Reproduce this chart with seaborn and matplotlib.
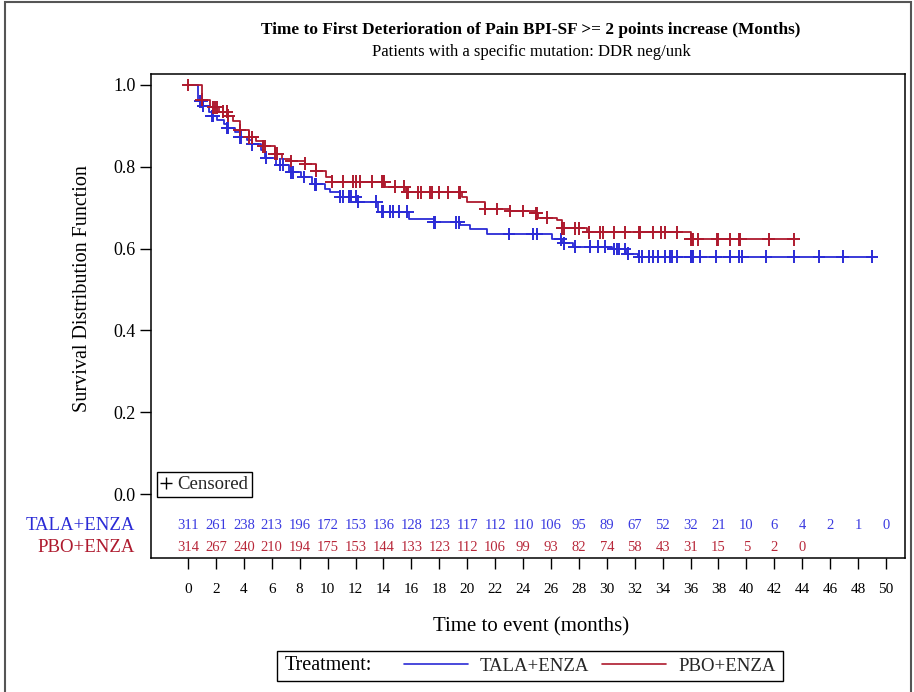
import numpy as np
import pandas as pd
import matplotlib
matplotlib.use("Agg")
import matplotlib.pyplot as plt
from matplotlib.lines import Line2D
from matplotlib.patches import Rectangle
import matplotlib.transforms as mtransforms
import seaborn as sns

# ---- Kaplan-Meier step data (time in months, survival after step) ----
tala_times = [0, 0.7, 1.1, 1.5, 1.7, 2.1, 2.6, 2.8, 3.4, 3.7, 4.2, 4.6, 5.2, 5.5,
              6.3, 7.2, 8.1, 8.9, 9.8, 10.2, 10.9, 12.1, 13.6, 15.8, 17.6, 19.5,
              20.2, 21.4, 26.1, 26.8, 27.6, 30.4, 31.4, 32.2, 49.0]
tala_surv = [1.0, 0.960, 0.949, 0.935, 0.924, 0.915, 0.905, 0.895, 0.885, 0.872,
             0.865, 0.855, 0.840, 0.822, 0.805, 0.787, 0.775, 0.757, 0.745, 0.739,
             0.727, 0.715, 0.690, 0.672, 0.664, 0.658, 0.648, 0.636, 0.623, 0.613,
             0.605, 0.599, 0.588, 0.580, 0.580]

pbo_times = [0, 0.98, 1.6, 2.2, 2.9, 3.2, 3.7, 4.4, 4.9, 5.4, 6.2, 6.7, 7.4, 8.4,
             9.2, 9.9, 10.3, 14.1, 15.6, 19.6, 20.0, 21.3, 23.1, 24.9, 25.1, 26.4,
             26.8, 28.6, 36.0, 43.4]
pbo_surv = [1.0, 0.964, 0.945, 0.935, 0.925, 0.912, 0.890, 0.872, 0.862, 0.850,
            0.832, 0.820, 0.814, 0.808, 0.790, 0.775, 0.764, 0.751, 0.738, 0.726,
            0.715, 0.697, 0.692, 0.686, 0.676, 0.670, 0.650, 0.640, 0.623, 0.623]

# ---- censoring times ----
tala_censor = [0.86, 0.98, 1.1, 1.7, 1.8, 2.8, 2.9, 3.7, 3.8, 4.6, 5.6, 6.6, 6.8,
               7.4, 7.5, 8.3, 9.1, 9.2, 10.9, 11.1, 11.5, 11.7, 12.0, 12.2, 13.5,
               13.9, 13.95, 14.5, 14.7, 15.1, 15.7, 17.6, 17.7, 19.2, 19.4, 23.0,
               24.7, 25.0, 26.7, 26.9, 27.7, 28.8, 29.4, 29.9, 30.5, 30.7, 30.9,
               31.3, 31.5, 32.3, 32.5, 33.0, 33.3, 33.7, 34.2, 34.5, 34.7, 35.0,
               36.0, 36.05, 36.1, 36.15, 36.7, 37.8, 38.8, 39.5, 39.7, 41.4, 43.4,
               45.2, 46.9, 49.0]
pbo_censor = [0.0, 0.98, 1.8, 1.9, 2.1, 2.5, 2.8, 2.9, 3.7, 4.4, 4.6, 5.4, 5.5,
              6.2, 6.4, 7.4, 8.4, 9.2, 10.3, 11.1, 11.8, 12.0, 12.3, 13.2, 13.9,
              14.0, 14.05, 14.8, 15.5, 15.7, 15.75, 16.5, 16.7, 17.3, 17.5, 18.0,
              18.6, 19.4, 19.5, 21.3, 22.1, 23.1, 24.0, 24.9, 25.0, 25.7, 26.8,
              26.9, 27.7, 28.0, 28.7, 29.5, 29.7, 30.5, 31.3, 32.3, 32.35, 33.3,
              33.9, 34.2, 35.0, 36.0, 36.1, 36.15, 36.5, 37.9, 37.95, 38.8, 39.5,
              39.55, 41.6, 43.4]

# ---- numbers at risk ----
risk_times = list(range(0, 52, 2))
tala_risk = [311, 261, 238, 213, 196, 172, 153, 136, 128, 123, 117, 112, 110,
             106, 95, 89, 67, 52, 32, 21, 10, 6, 4, 2, 1, 0]
pbo_risk = [314, 267, 240, 210, 194, 175, 153, 144, 133, 123, 112, 106, 99, 93,
            82, 74, 58, 43, 31, 15, 5, 2, 0]

arms = ["TALA+ENZA", "PBO+ENZA"]
colors = {"TALA+ENZA": "#2B2BD6", "PBO+ENZA": "#AE1A2E"}
risk_colors = {"TALA+ENZA": "#3A3AE0", "PBO+ENZA": "#B8283A"}

sns.set_theme(style="white")
plt.rcParams["font.family"] = ["Liberation Serif", "DejaVu Serif"]

W, H = 914, 692
fig = plt.figure(figsize=(W / 100, H / 100), dpi=100)
ax_l, ax_r, ax_t, ax_b = 151, 905, 73.5, 558
ax = fig.add_axes([ax_l / W, 1 - ax_b / H, (ax_r - ax_l) / W, (ax_b - ax_t) / H])

curves = pd.concat([
    pd.DataFrame({"time": tala_times, "surv": tala_surv, "arm": arms[0]}),
    pd.DataFrame({"time": pbo_times, "surv": pbo_surv, "arm": arms[1]}),
], ignore_index=True)


def step_value(times, surv, t):
    idx = np.searchsorted(np.asarray(times), np.asarray(t), side="right") - 1
    return np.asarray(surv)[idx]


censored = pd.concat([
    pd.DataFrame({"time": tala_censor,
                  "surv": step_value(tala_times, tala_surv, tala_censor),
                  "arm": arms[0]}),
    pd.DataFrame({"time": pbo_censor,
                  "surv": step_value(pbo_times, pbo_surv, pbo_censor),
                  "arm": arms[1]}),
], ignore_index=True)

sns.lineplot(data=curves, x="time", y="surv", hue="arm", palette=colors,
             hue_order=arms, estimator=None, drawstyle="steps-post",
             linewidth=1.3, legend=False, ax=ax)
sns.scatterplot(data=censored, x="time", y="surv", hue="arm", palette=colors,
                hue_order=arms, marker="+", s=85, linewidth=1.4, legend=False,
                ax=ax, zorder=3)

# axis ranges and ticks
ax.set_xlim(-2.65, 51.36)
ax.set_ylim(-0.156, 1.028)
ax.set_xticks(risk_times)
ax.set_yticks([0.0, 0.2, 0.4, 0.6, 0.8, 1.0])
ax.set_yticklabels([f"{v:.1f}" for v in [0.0, 0.2, 0.4, 0.6, 0.8, 1.0]])
ax.tick_params(axis="y", direction="out", length=8, width=1, pad=3,
               labelsize=13, left=True, colors="black")
ax.tick_params(axis="x", direction="out", length=8, width=1, pad=10,
               labelsize=11, bottom=True, colors="black")
for sp in ax.spines.values():
    sp.set_visible(True)
    sp.set_color("black")
    sp.set_linewidth(1.1)
ax.grid(False)

ax.set_ylabel("Survival Distribution Function", fontsize=14.5, color="black")
ax.yaxis.set_label_coords((92 - ax_l) / (ax_r - ax_l), (ax_b - 289) / (ax_b - ax_t))
ax.set_xlabel("Time to event (months)", fontsize=15, color="black")
ax.xaxis.set_label_coords((531 - ax_l) / (ax_r - ax_l), (ax_b - 617) / (ax_b - ax_t))

# numbers at risk table inside the plot area
row_y = {"TALA+ENZA": -0.0758, "PBO+ENZA": -0.1296}
for arm, counts in zip(arms, [tala_risk, pbo_risk]):
    for t, n in zip(risk_times, counts):
        ax.text(t, row_y[arm], str(n), ha="center", va="center",
                fontsize=10.5, color=risk_colors[arm])
    trans = mtransforms.blended_transform_factory(ax.transAxes, ax.transData)
    ax.text((135 - ax_l) / (ax_r - ax_l), row_y[arm], arm, transform=trans,
            ha="right", va="center", fontsize=13.5, color=colors[arm],
            clip_on=False)

# censored key
cens_leg = ax.legend(
    handles=[Line2D([0], [0], marker="+", color="black", ls="none",
                    markersize=8, markeredgewidth=1.0)],
    labels=["Censored"], loc="lower left",
    bbox_to_anchor=((157 - ax_l) / (ax_r - ax_l), (ax_b - 497) / (ax_b - ax_t)),
    borderaxespad=0, frameon=True, fancybox=False, edgecolor="black",
    handlelength=0.6, handletextpad=0.3, borderpad=0.2, fontsize=13.5)
cens_leg.get_frame().set_linewidth(1.0)
cens_leg.get_frame().set_alpha(1)

# titles
cx = (ax_l + ax_r) / 2 / W
fig.text(cx + 3 / W, 1 - 30 / H,
         "Time to First Deterioration of Pain BPI-SF >= 2 points increase (Months)",
         ha="center", va="center", fontsize=12.4, fontweight="bold", color="black")
fig.text(cx + 3 / W, 1 - 52 / H, "Patients with a specific mutation: DDR neg/unk",
         ha="center", va="center", fontsize=12, color="black")

# treatment legend at the bottom
fig.patches.append(Rectangle((277 / W, 1 - 681 / H), (783 - 277) / W, 30 / H,
                             transform=fig.transFigure, fill=False,
                             edgecolor="black", linewidth=1.0))
fig.text(285 / W, 1 - 666 / H, "Treatment:", ha="left", va="center",
         fontsize=14.5, color="black")
fig.legend(handles=[Line2D([0], [0], color=colors[a], lw=1.2) for a in arms],
           labels=arms, ncol=2, loc="center left",
           bbox_to_anchor=(404 / W, 1 - 666 / H), borderaxespad=0, borderpad=0,
           frameon=False, fontsize=13.5, handlelength=3.4, handletextpad=0.65,
           columnspacing=0.7)

# outer frame of the output
fig.patches.append(Rectangle((5 / W, -0.01), (911 - 5) / W, 1.0 + 0.01 - 2 / H,
                             transform=fig.transFigure, fill=False,
                             edgecolor="#555555", linewidth=1.5))

fig.savefig("out.png", dpi=100, facecolor="white")
